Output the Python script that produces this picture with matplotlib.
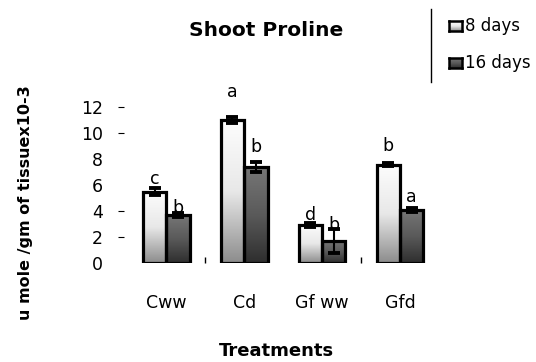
import numpy as np
import matplotlib
matplotlib.use("Agg")
import matplotlib.pyplot as plt
from matplotlib.colors import LinearSegmentedColormap
from matplotlib.patches import Rectangle

plt.rcParams['font.family'] = ['DejaVu Sans']

categories = ["Cww", "Cd", "Gf ww", "Gfd"]
series_names = ["8 days", "16 days"]
vals_8 = [5.5, 11.0, 2.95, 7.55]
err_8 = [0.3, 0.25, 0.15, 0.12]
vals_16 = [3.7, 7.4, 1.7, 4.1]
err_16 = [0.15, 0.4, 0.9, 0.15]
letters_8 = ["c", "a", "d", "b"]
letters_16 = ["b", "b", "b", "a"]
letter_gap_8 = [0.7, 1.9, 0.6, 1.3]
letter_gap_16 = [0.4, 1.1, 0.3, 0.85]
yticks = [0, 2, 4, 6, 8, 10, 12]
tick_dashes = [2, 4, 10, 12]

W, H = 536, 362
fig = plt.figure(figsize=(W / 100, H / 100), dpi=100)
ax_l, ax_r, ax_b, ax_t = 128, 439, 263, 94
ax = fig.add_axes([ax_l / W, 1 - ax_b / H, (ax_r - ax_l) / W, (ax_b - ax_t) / H])

cmap8 = LinearSegmentedColormap.from_list("c8", ["#fdfdfd", "#e8e8e8", "#8c8c8c"])
cmap16 = LinearSegmentedColormap.from_list("c16", ["#777777", "#5a5a5a", "#2e2e2e"])
grad = np.linspace(0, 1, 256).reshape(-1, 1)

width = 0.3
x = np.arange(len(categories))

def draw_bars(xs, vals, errs, cmap):
    for xi, v, e in zip(xs, vals, errs):
        x0 = xi - width / 2
        im = ax.imshow(grad, cmap=cmap, aspect='auto', extent=(x0, x0 + width, 0, v),
                       origin='upper', zorder=2)
        rect = Rectangle((x0, 0), width, v, facecolor='none', edgecolor='black',
                         linewidth=2.3, zorder=3)
        ax.add_patch(rect)
        im.set_clip_path(rect)
        ax.errorbar(xi, v, yerr=e, color='black', capsize=4.5, capthick=2.8,
                    elinewidth=1.5, zorder=4)

draw_bars(x - width / 2, vals_8, err_8, cmap8)
draw_bars(x + width / 2, vals_16, err_16, cmap16)
ax.set_xlim(-0.49, 3.5)
ax.set_ylim(0, 13)

for xi, v, e, l, g in zip(x - width / 2, vals_8, err_8, letters_8, letter_gap_8):
    ax.text(xi, v + e + g, l, ha='center', va='center', fontsize=12.5, clip_on=False)
for xi, v, e, l, g in zip(x + width / 2, vals_16, err_16, letters_16, letter_gap_16):
    ax.text(xi, v + e + g, l, ha='center', va='center', fontsize=12.5, clip_on=False)

for s in ax.spines.values():
    s.set_visible(False)
ax.spines['left'].set_position(('outward', 3))

ax.set_yticks(yticks)
ax.set_yticklabels([str(t) for t in yticks], fontsize=12.5)
ax.tick_params(axis='y', which='major', length=4, width=0.8, direction='out', pad=11)
for t, val in zip(ax.yaxis.get_major_ticks(), yticks):
    if val not in tick_dashes:
        t.tick1line.set_visible(False)

ax.set_xticks(x)
ax.set_xticklabels(categories, fontsize=12.5)
ax.tick_params(axis='x', which='major', length=0, pad=22)
ax.set_xticks([0.5, 2.5], minor=True)
ax.tick_params(axis='x', which='minor', length=4, width=1, direction='in')

fig.text(266 / W, 1 - 31 / H, "Shoot Proline", ha='center', va='center',
         fontsize=14.5, fontweight='bold')
fig.text(26 / W, 1 - 203 / H, "u mole /gm of tissuex10-3", ha='center', va='center',
         rotation=90, fontsize=11.5, fontweight='bold')
fig.text(276 / W, 1 - 351 / H, "Treatments", ha='center', va='center',
         fontsize=13, fontweight='bold')

# legend
fig.add_artist(plt.Line2D([431 / W, 431 / W], [1 - 9 / H, 1 - 82 / H], color='black', lw=1))
for name, cmap, yc in [(series_names[0], cmap8, 26), (series_names[1], cmap16, 63)]:
    lax = fig.add_axes([449 / W, 1 - (yc + 5) / H, 13 / W, 10 / H])
    lax.imshow(grad, cmap=cmap, aspect='auto', extent=(0, 1, 0, 1))
    lax.set_xticks([]); lax.set_yticks([])
    for s in lax.spines.values():
        s.set_linewidth(1.8)
    fig.text(465 / W, 1 - yc / H, name, ha='left', va='center', fontsize=12)

fig.savefig("out.png", dpi=100)
